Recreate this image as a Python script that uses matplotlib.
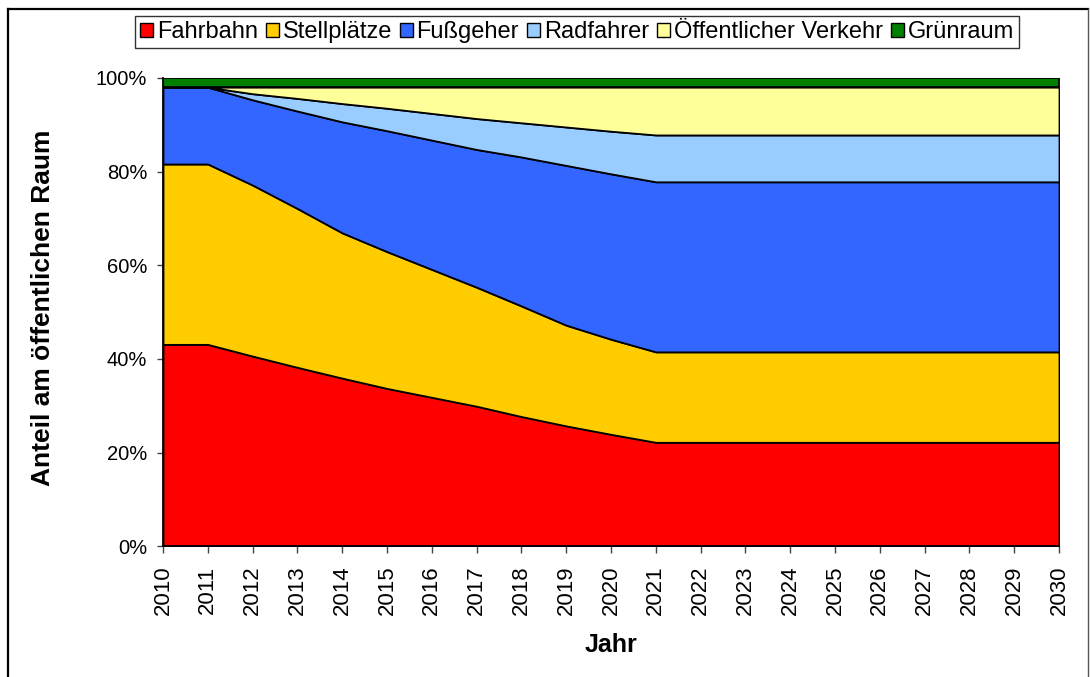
import matplotlib
matplotlib.use("Agg")
import matplotlib.pyplot as plt
from matplotlib.ticker import PercentFormatter
from matplotlib.patches import Patch
from matplotlib.lines import Line2D

plt.rcParams['font.family'] = ['Liberation Sans', 'DejaVu Sans']

years = list(range(2010, 2031))

fahrbahn = [43.1, 43.1, 40.6, 38.2, 35.9, 33.7, 31.8, 29.9, 27.7, 25.7, 23.9,
            22.2, 22.2, 22.2, 22.2, 22.2, 22.2, 22.2, 22.2, 22.2, 22.2]
stellplaetze = [38.5, 38.5, 36.5, 33.9, 31.0, 29.2, 27.3, 25.4, 23.6, 21.5, 20.3,
                19.3, 19.3, 19.3, 19.3, 19.3, 19.3, 19.3, 19.3, 19.3, 19.3]
fussgeher = [16.4, 16.4, 18.2, 20.8, 23.7, 25.8, 27.6, 29.4, 31.8, 34.1, 35.3,
             36.3, 36.3, 36.3, 36.3, 36.3, 36.3, 36.3, 36.3, 36.3, 36.3]
radfahrer = [0.0, 0.0, 1.3, 2.7, 3.9, 4.8, 5.7, 6.6, 7.3, 8.2, 9.1,
             10.0, 10.0, 10.0, 10.0, 10.0, 10.0, 10.0, 10.0, 10.0, 10.0]
oeffentlicher_verkehr = [0.0, 0.0, 1.4, 2.4, 3.5, 4.5, 5.6, 6.7, 7.6, 8.5, 9.4,
                         10.2, 10.2, 10.2, 10.2, 10.2, 10.2, 10.2, 10.2, 10.2, 10.2]
gruenraum = [2.0] * 21

labels = ["Fahrbahn", "Stellplätze", "Fußgeher", "Radfahrer",
          "Öffentlicher Verkehr", "Grünraum"]
colors = ["#FF0000", "#FFCC00", "#3366FF", "#99CCFF", "#FFFF99", "#008000"]

W, H = 1090, 677
fig = plt.figure(figsize=(W / 100, H / 100), dpi=100)
ax = fig.add_axes([163 / W, 1 - 546.3 / H, (1059 - 163) / W, (546.3 - 77.8) / H])

ax.stackplot(years, fahrbahn, stellplaetze, fussgeher, radfahrer,
             oeffentlicher_verkehr, gruenraum, colors=colors,
             edgecolor="black", linewidth=1.3)

ax.set_xlim(2010, 2030)
ax.set_ylim(0, 100)
ax.set_xticks(years)
ax.set_xticklabels([str(y) for y in years], rotation=90, fontsize=16)
ax.set_yticks(range(0, 101, 20))
ax.yaxis.set_major_formatter(PercentFormatter(decimals=0))
ax.tick_params(axis="y", labelsize=14.5, length=4.5, width=1, color="#444444", pad=7)
ax.tick_params(axis="x", length=5, width=1, color="#444444", pad=9)
for s in ("top", "right"):
    ax.spines[s].set_visible(False)
for s in ("left", "bottom"):
    ax.spines[s].set_color("black")
    ax.spines[s].set_linewidth(1.3)

fig.text(43 / W, 1 - 308 / H, "Anteil am öffentlichen Raum", rotation=90,
         ha="center", va="center", fontsize=19, fontweight="bold")
fig.text(611 / W, 1 - 645 / H, "Jahr", ha="center", va="center",
         fontsize=18, fontweight="bold")

handles = [Patch(facecolor=c, edgecolor="black", linewidth=1.0) for c in colors]
leg = fig.legend(handles, labels, loc="center", ncol=6,
                 bbox_to_anchor=(577 / W, 1 - 32 / H), fontsize=17,
                 handlelength=0.55, handleheight=0.55, handletextpad=0.15,
                 columnspacing=0.35, borderpad=0.2, frameon=True, fancybox=False)
leg.get_frame().set_edgecolor("black")
leg.get_frame().set_linewidth(1.0)

# outer chart border
fig.add_artist(Line2D([8 / W, 8 / W], [0, 1 - 9 / H], transform=fig.transFigure,
                      color="black", linewidth=1.6))
fig.add_artist(Line2D([8 / W, 1088 / W], [1 - 9 / H, 1 - 9 / H], transform=fig.transFigure,
                      color="black", linewidth=1.6))
fig.add_artist(Line2D([1088 / W, 1088 / W], [0, 1 - 9 / H], transform=fig.transFigure,
                      color="#555555", linewidth=1.0))

fig.savefig("out.png", dpi=100)
